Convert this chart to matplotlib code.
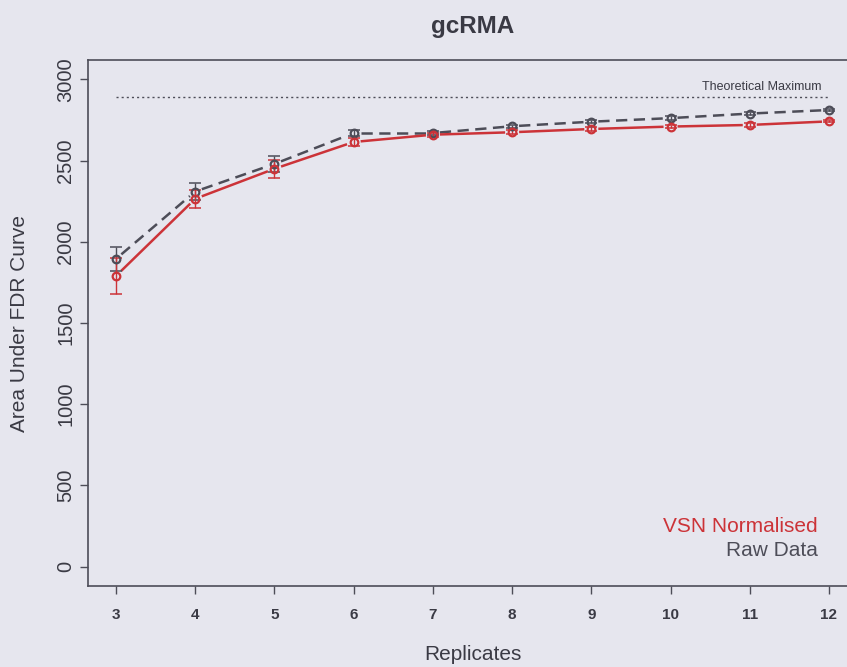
import numpy as np
import matplotlib
matplotlib.use("Agg")
import matplotlib.pyplot as plt

# Area under the FDR curve by number of replicates (gcRMA)
replicates = [3, 4, 5, 6, 7, 8, 9, 10, 11, 12]
vsn_mean = [1790, 2265, 2450, 2615, 2660, 2675, 2695, 2710, 2720, 2742]
vsn_err = [110, 55, 55, 25, 12, 12, 10, 10, 10, 6]
raw_mean = [1895, 2310, 2480, 2670, 2670, 2712, 2740, 2762, 2790, 2812]
raw_err = [75, 55, 50, 18, 12, 10, 10, 10, 8, 5]
theoretical_max = 2890

BG = "#e6e6ee"
RED = "#cc3338"
GRAY = "#4d4d58"
TXT = "#3a3a44"

plt.rcParams["font.family"] = ["Liberation Sans", "DejaVu Sans"]

W, H = 847, 667
fig = plt.figure(figsize=(W / 100, H / 100), dpi=100, facecolor=BG)
ax = fig.add_axes([87.5 / W, 1 - 586 / H, 770 / W, 526 / H], facecolor=BG)
ax.set_xlim(2.64, 12.36)
ax.set_ylim(-120, 3120)


def gapped_line(x, y, color, ls, lw, gap_px=7):
    """Connect points like R's type='b': segments stop short of each point."""
    pts = ax.transData.transform(np.column_stack([x, y]))
    inv = ax.transData.inverted()
    for p0, p1 in zip(pts[:-1], pts[1:]):
        d = p1 - p0
        L = np.hypot(*d)
        if L <= 2 * gap_px:
            continue
        u = d / L
        a = inv.transform(p0 + u * gap_px)
        b = inv.transform(p1 - u * gap_px)
        ax.plot([a[0], b[0]], [a[1], b[1]], color=color, ls=ls, lw=lw,
                solid_capstyle="butt", dash_capstyle="butt", zorder=2)


# theoretical maximum
ax.plot([replicates[0], replicates[-1]], [theoretical_max] * 2, color=GRAY,
        lw=1.0, ls=(0, (1.5, 2.2)), zorder=1)
ax.text(replicates[-1] - 0.1, theoretical_max + 25, "Theoretical Maximum",
        ha="right", va="bottom", fontsize=9, color=TXT)

# raw data: dashed gray
gapped_line(replicates, raw_mean, GRAY, (0, (4.5, 2.6)), 1.8)
ax.errorbar(replicates, raw_mean, yerr=raw_err, fmt="none", ecolor=GRAY,
            elinewidth=1.0, capsize=4.5, capthick=1.1, zorder=3)
ax.plot(replicates, raw_mean, ls="none", marker="o", ms=5.5, mfc="none",
        mec=GRAY, mew=1.6, zorder=4)

# VSN normalised: solid red
gapped_line(replicates, vsn_mean, RED, "-", 1.8)
ax.errorbar(replicates, vsn_mean, yerr=vsn_err, fmt="none", ecolor=RED,
            elinewidth=1.0, capsize=4.5, capthick=1.1, zorder=3)
ax.plot(replicates, vsn_mean, ls="none", marker="o", ms=5.5, mfc="none",
        mec=RED, mew=1.6, zorder=4)

# axes styling
for s in ["left", "bottom", "top"]:
    ax.spines[s].set_color(GRAY)
    ax.spines[s].set_linewidth(1.2)
ax.spines["right"].set_visible(False)

ax.set_xticks(replicates)
ax.set_xticklabels([str(r) for r in replicates])
ax.set_yticks(np.arange(0, 3001, 500))
ax.tick_params(axis="x", length=6, width=1, color=GRAY, pad=10,
               labelsize=11, labelcolor=TXT)
ax.tick_params(axis="y", length=6, width=1, color=GRAY, pad=3,
               labelsize=14.5, labelcolor=TXT, labelrotation=90)
for lab in ax.get_yticklabels():
    lab.set_va("center")
for lab in ax.get_xticklabels():
    lab.set_fontweight("bold")

fig.text(472.5 / W, 1 - 655 / H, "Replicates", ha="center", va="center",
         fontsize=15, color=TXT)
fig.text(20 / W, 1 - 323 / H, "Area Under FDR Curve", ha="center",
         va="center", rotation=90, fontsize=15, color=TXT)
fig.text(472.5 / W, 1 - 27 / H, "gcRMA", ha="center", va="center",
         fontsize=17.5, fontweight="bold", color=TXT)

# legend text
fig.text(818 / W, 1 - 526 / H, "VSN Normalised", ha="right", va="center",
         fontsize=15, color=RED)
fig.text(818 / W, 1 - 551 / H, "Raw Data", ha="right", va="center",
         fontsize=15, color=GRAY)

fig.savefig("out.png", dpi=100, facecolor=BG)
